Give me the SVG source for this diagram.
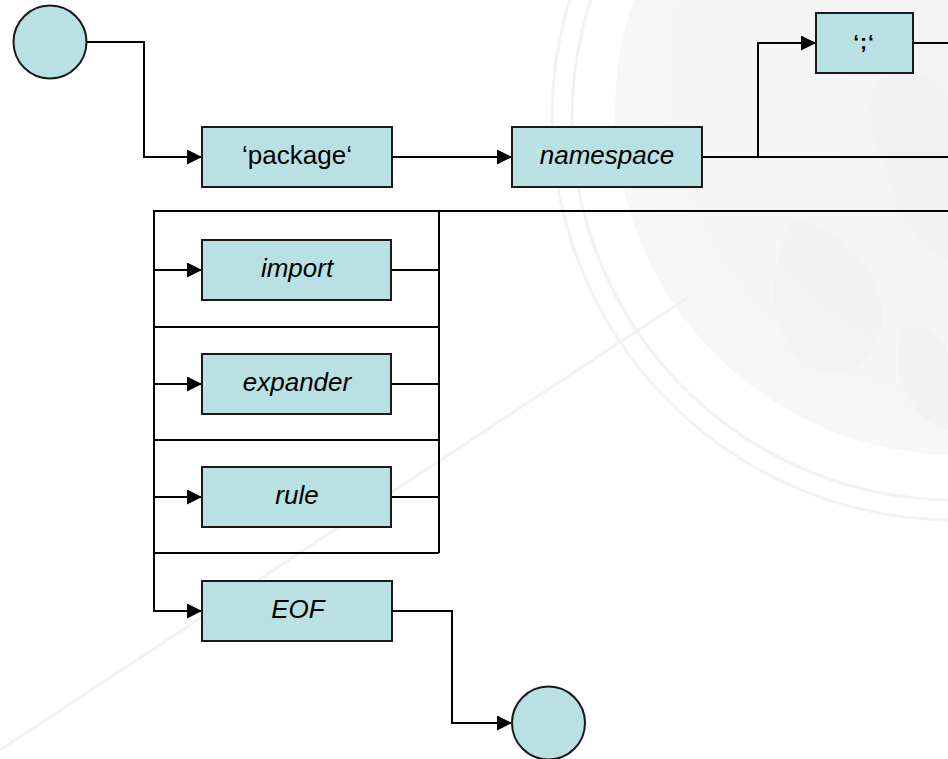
<svg xmlns="http://www.w3.org/2000/svg" width="948" height="759" viewBox="0 0 948 759">
  <defs>
    <marker id="arrow" markerUnits="userSpaceOnUse" markerWidth="16" markerHeight="15" refX="15" refY="7.5" orient="auto">
      <path d="M0,0 L15,7.5 L0,15 z" fill="#000"/>
    </marker>
    <radialGradient id="globeFill" cx="0.55" cy="0.45" r="0.6">
      <stop offset="0" stop-color="#f2f2f2"/>
      <stop offset="1" stop-color="#f7f7f7"/>
    </radialGradient>
    <style>
      .box { fill: #b9e0e3; stroke: #1a1a1a; stroke-width: 2; }
      .term { fill: #b9e0e3; stroke: #1a1a1a; stroke-width: 2; }
      .wire { fill: none; stroke: #000; stroke-width: 2; }
      .lbl { font-family: "Liberation Sans", Arial, sans-serif; font-size: 26px; fill: #000; text-anchor: middle; }
      .it { font-style: italic; }
      .ring { fill: none; stroke: #f2f2f2; stroke-width: 3; }
    </style>
  </defs>

  <rect width="948" height="759" fill="#fff"/>

  <!-- faint globe backdrop -->
  <g id="backdrop">
    <circle cx="958" cy="112" r="343" fill="url(#globeFill)"/>
    <path d="M880,80 C930,60 948,90 948,120 L948,260 C920,250 900,220 890,180 C875,140 860,110 880,80 z" fill="#efefef" opacity="0.5"/>
    <path d="M800,220 C840,230 870,260 880,300 C890,340 860,380 820,370 C790,360 770,320 775,280 C778,250 785,225 800,220 z" fill="#f0f0f0" opacity="0.5"/>
    <path d="M900,330 C930,320 948,340 948,360 L948,430 C925,425 905,400 898,370 z" fill="#eeeeee" opacity="0.5"/>
    <circle cx="954" cy="118" r="382" class="ring"/>
    <circle cx="954" cy="118" r="402" class="ring"/>
    <path d="M0,750 L690,296" fill="none" stroke="#f2f2f2" stroke-width="3"/>
  </g>

  <!-- connectors -->
  <g id="connectors">
    <path class="wire" d="M86,42 H144 V157 H202" marker-end="url(#arrow)"/>
    <path class="wire" d="M392,157 H512" marker-end="url(#arrow)"/>
    <path class="wire" d="M702,157 H948"/>
    <path class="wire" d="M758,157 V43 H816" marker-end="url(#arrow)"/>
    <path class="wire" d="M913,43 H948"/>
    <path class="wire" d="M948,211 H154 V611 H202" marker-end="url(#arrow)"/>
    <path class="wire" d="M439,211 V553"/>
    <path class="wire" d="M154,327 H439"/>
    <path class="wire" d="M154,440 H439"/>
    <path class="wire" d="M154,553 H439"/>
    <path class="wire" d="M154,270 H202" marker-end="url(#arrow)"/>
    <path class="wire" d="M391,270 H439"/>
    <path class="wire" d="M154,384 H202" marker-end="url(#arrow)"/>
    <path class="wire" d="M391,384 H439"/>
    <path class="wire" d="M154,497 H202" marker-end="url(#arrow)"/>
    <path class="wire" d="M391,497 H439"/>
    <path class="wire" d="M392,611 H452 V723 H512" marker-end="url(#arrow)"/>
  </g>

  <!-- nodes -->
  <g id="start">
    <circle class="term" cx="50" cy="42" r="36.5"/>
  </g>
  <g id="package">
    <rect class="box" x="202" y="127" width="190" height="60"/>
    <text class="lbl" x="297" y="164">‘package‘</text>
  </g>
  <g id="namespace">
    <rect class="box" x="512" y="127" width="190" height="60"/>
    <text class="lbl it" x="607" y="164">namespace</text>
  </g>
  <g id="semicolon">
    <rect class="box" x="816" y="13" width="97" height="60"/>
    <text class="lbl" x="864" y="49" style="font-size:21px;font-weight:bold" letter-spacing="1">‘;‘</text>
  </g>
  <g id="import">
    <rect class="box" x="202" y="240" width="189" height="60"/>
    <text class="lbl it" x="297" y="277">import</text>
  </g>
  <g id="expander">
    <rect class="box" x="202" y="354" width="189" height="60"/>
    <text class="lbl it" x="297" y="391">expander</text>
  </g>
  <g id="rule">
    <rect class="box" x="202" y="467" width="189" height="60"/>
    <text class="lbl it" x="297" y="504">rule</text>
  </g>
  <g id="eof">
    <rect class="box" x="202" y="581" width="190" height="60"/>
    <text class="lbl it" x="298" y="618">EOF</text>
  </g>
  <g id="end">
    <circle class="term" cx="548.5" cy="723" r="36.5"/>
  </g>
</svg>
